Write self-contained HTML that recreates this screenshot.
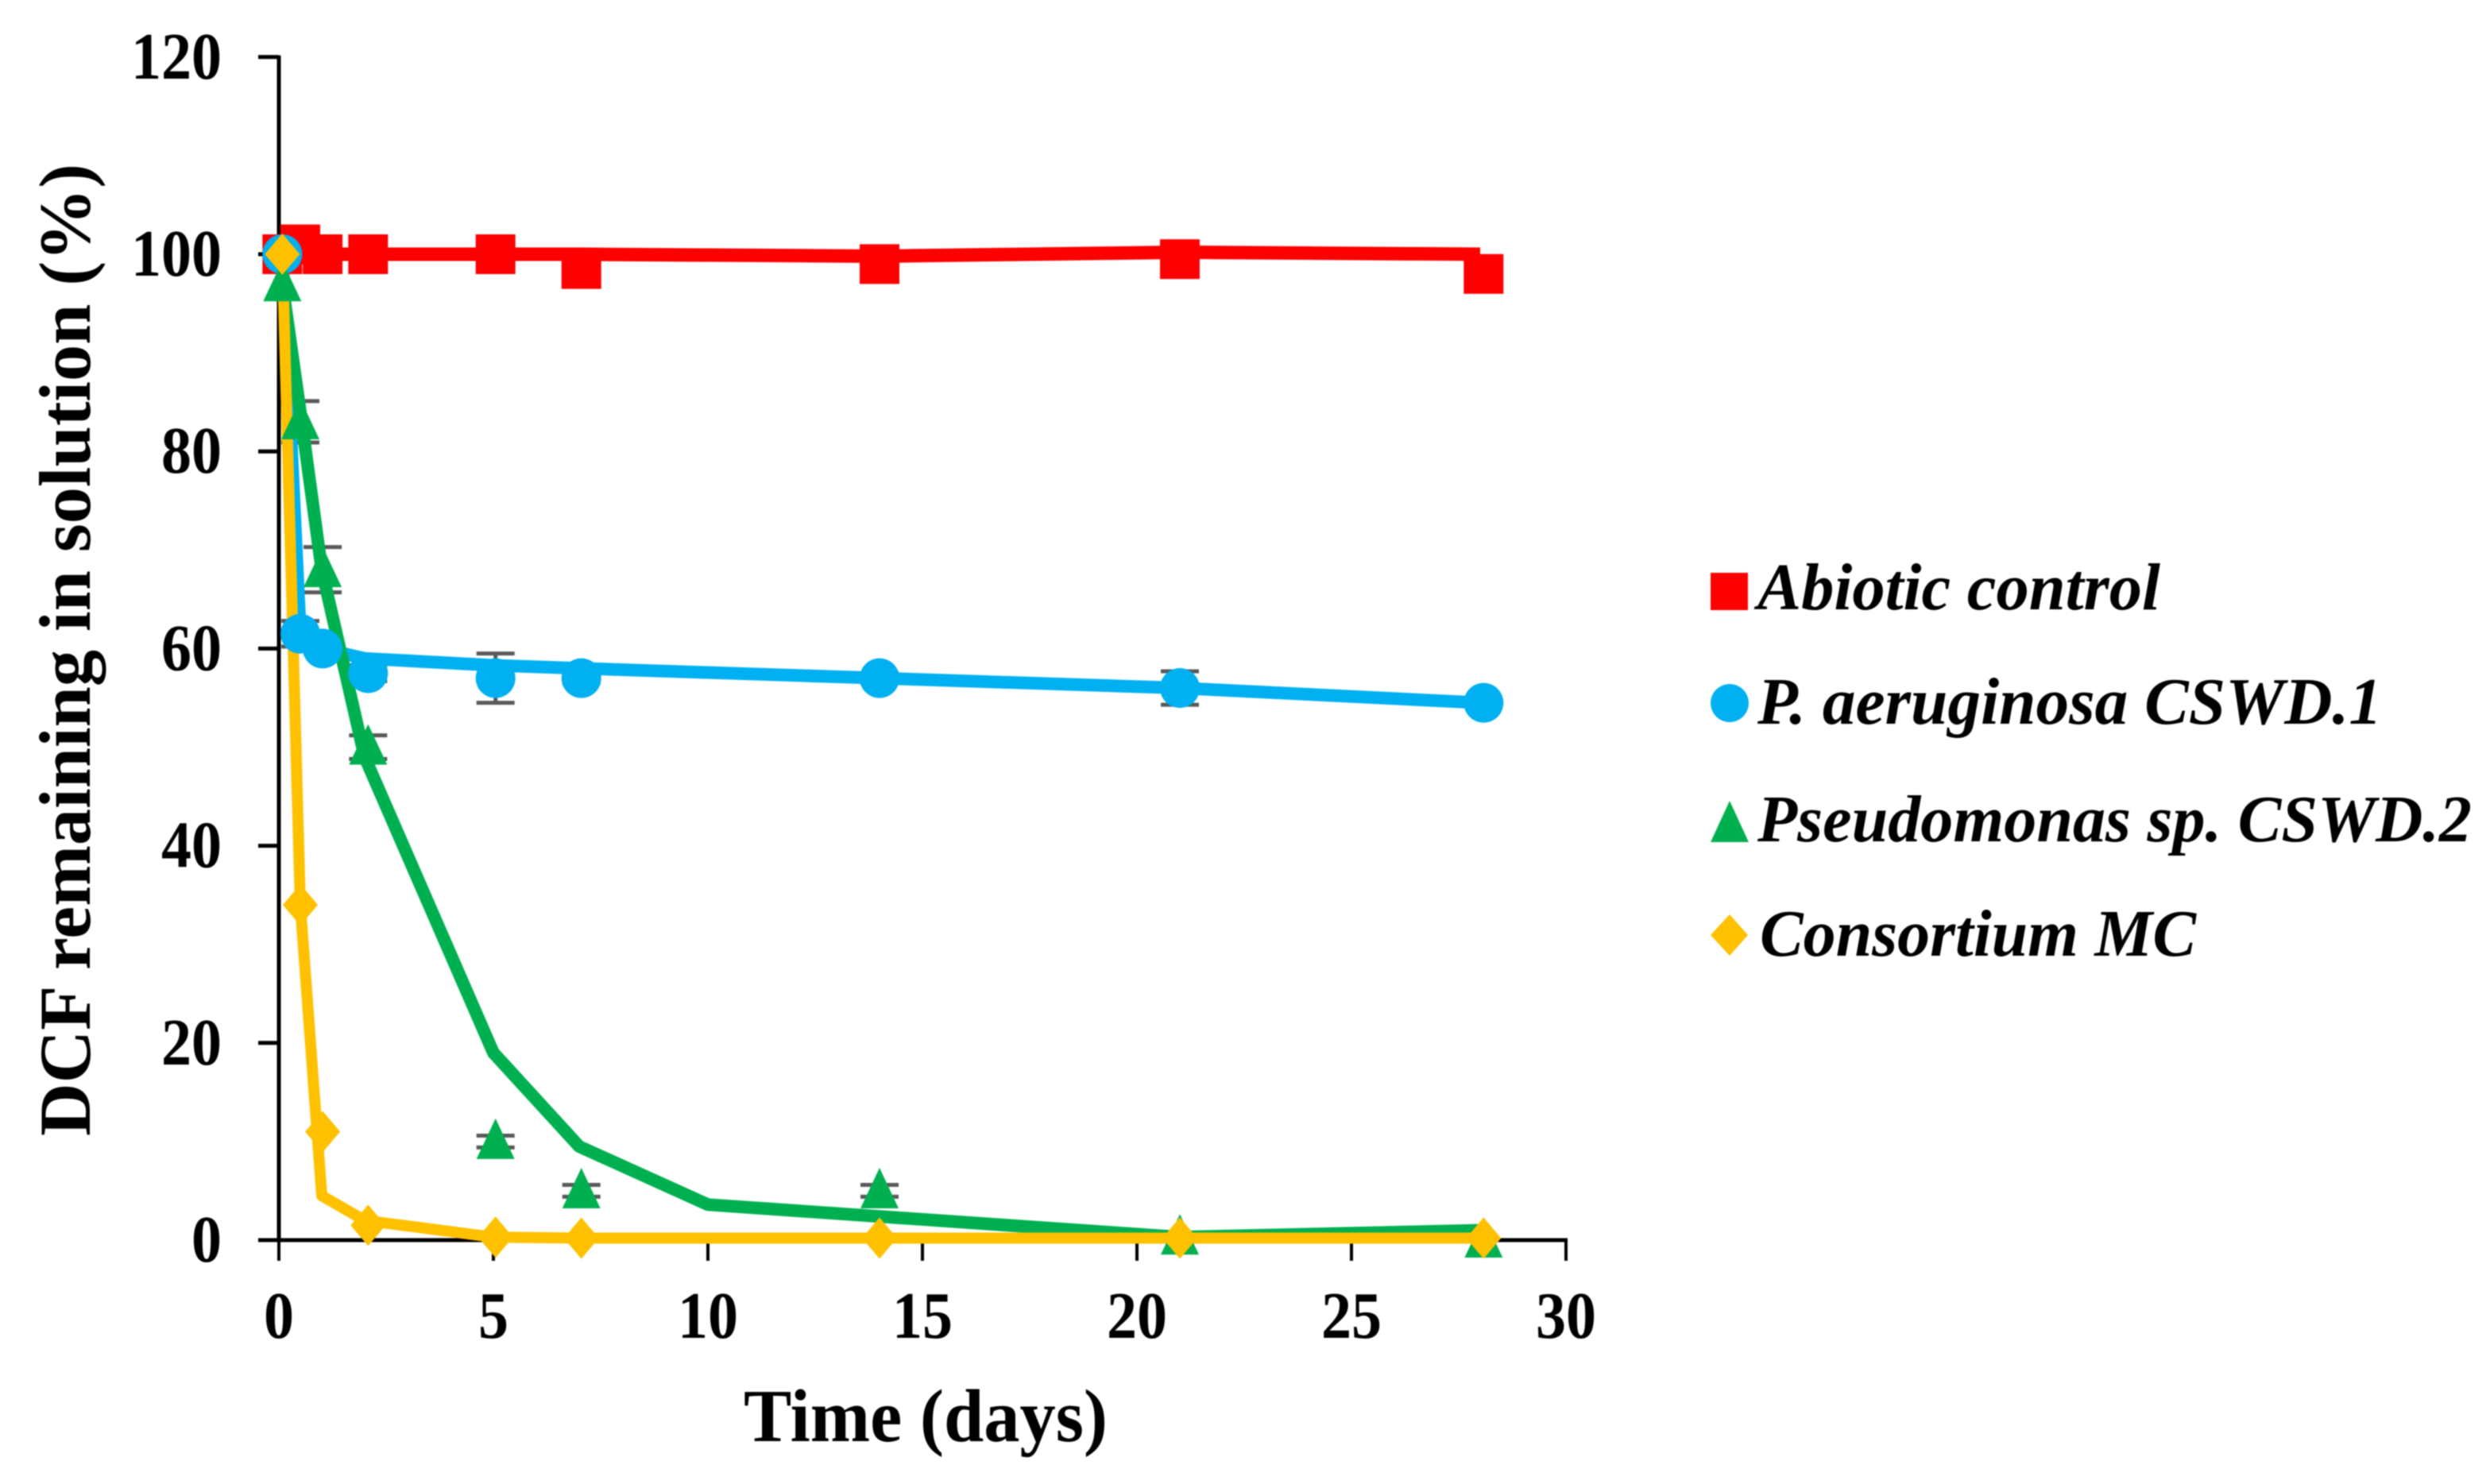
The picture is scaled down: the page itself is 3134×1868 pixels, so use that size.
<!DOCTYPE html>
<html lang="en">
<head>
<meta charset="utf-8">
<title>DCF remaining in solution over time</title>
<style>
html,body{margin:0;padding:0;background:#fff;width:3134px;height:1868px;overflow:hidden}
svg{display:block;filter:blur(0.8px)}
text{font-family:"Liberation Serif",serif;fill:#000}
</style>
</head>
<body>
<svg id="chart" xmlns="http://www.w3.org/2000/svg" width="3134" height="1868" viewBox="0 0 3134 1868">
  <rect x="0" y="0" width="3134" height="1868" fill="#fff"/>
  <g id="axes"></g>
  <g id="errors"></g>
  <g id="lines"></g>
  <g id="markers"></g>
  <text x="936" y="1814" font-size="94" font-weight="bold" textLength="458" lengthAdjust="spacingAndGlyphs">Time (days)</text>
  <text transform="translate(113 1430) rotate(-90)" x="0" y="0" font-size="92" font-weight="bold" textLength="1224" lengthAdjust="spacingAndGlyphs">DCF remaining in solution (%)</text>
  <g>
    <g>
      <rect x="2153" y="721" width="47" height="47" fill="#ff0000"/>
      <text x="2212" y="767" font-size="84" font-style="italic" font-weight="bold" textLength="507" lengthAdjust="spacingAndGlyphs">Abiotic control</text>
    </g>
    <g>
      <circle cx="2177" cy="885" r="24" fill="#00b0f0"/>
      <text x="2212" y="911" font-size="84" font-style="italic" font-weight="bold" textLength="786" lengthAdjust="spacingAndGlyphs">P. aeruginosa CSWD.1</text>
    </g>
    <g>
      <polygon points="2177,1008 2201,1060 2153,1060" fill="#00b050"/>
      <text x="2212" y="1059" font-size="84" font-style="italic" font-weight="bold" textLength="899" lengthAdjust="spacingAndGlyphs">Pseudomonas sp. CSWD.2</text>
    </g>
    <g>
      <polygon points="2177,1151 2200,1177 2177,1203 2153,1177" fill="#ffc000"/>
      <text x="2215" y="1203" font-size="84" font-style="italic" font-weight="bold" textLength="549" lengthAdjust="spacingAndGlyphs">Consortium MC</text>
    </g>
  </g>
</svg>
<script>
const xTickLabels = [0, 5, 10, 15, 20, 25, 30];
const yTickLabels = [0, 20, 40, 60, 80, 100, 120];

const markerDays = [0.08, 0.5, 1.02, 2.08, 5.05, 7.05, 14, 21, 28.08];
const abioticValues = [100, 101, 100, 100, 100, 98.5, 99, 99.5, 98];
const aeruginosaValues = [100, 61.5, 60, 57.5, 57, 57, 57, 56, 54.5];
const pseudomonasValues = [97, 83, 68, 50, 10, 5, 5, 0.3, 0];
const consortiumValues = [100, 34, 11, 1.5, 0.3, 0.2, 0.2, 0.2, 0.2];

const aeruginosaErrors = [0, 1.3, 0.5, 0.8, 2.5, 0.5, 0.5, 1.7, 0.3];
const pseudomonasErrors = [0, 2.1, 2.3, 1.2, 0.6, 0.6, 0.6, 0, 0];

const abioticLineDays = [0.08, 0.5, 1, 2, 5, 7, 14, 21, 28];
const abioticLineValues = [100, 100, 100, 100, 100, 100, 99.8, 100.2, 100];
const aeruginosaLineDays = [0.08, 0.5, 1, 2, 5, 7, 14, 21, 28];
const aeruginosaLineValues = [100, 61.5, 60, 59, 58.3, 58, 57, 56, 54.5];
const pseudomonasLineDays = [0.08, 0.5, 1, 2, 5, 7, 10, 14, 21, 28];
const pseudomonasLineValues = [97, 84, 68, 49, 19, 9.5, 3.6, 2.4, 0.3, 1];
const consortiumLineDays = [0.08, 0.5, 1, 2, 5, 7, 14, 21, 28];
const consortiumLineValues = [100, 34, 4.5, 2, 0.3, 0.2, 0.2, 0.2, 0.2];

const NS = 'http://www.w3.org/2000/svg';
const xScale = d => 351 + d * 54;
const yScale = v => 1561 - v * 12.41;

function make(tag, parent, props) {
  const el = document.createElementNS(NS, tag);
  for (const k in props) el.setAttribute(k, props[k]);
  parent.appendChild(el);
  return el;
}

const axes = document.getElementById('axes');
const linesLayer = document.getElementById('lines');
const errorsLayer = document.getElementById('errors');
const markersLayer = document.getElementById('markers');

const yAxisLine = make('line', axes, {x1: xScale(0), y1: yScale(120) - 2, x2: xScale(0), y2: yScale(0) + 2, stroke: '#000', 'stroke-width': 5});


const xAxisLine = make('line', axes, {x1: xScale(0) - 2, y1: yScale(0), x2: xScale(30) + 2, y2: yScale(0), stroke: '#000', 'stroke-width': 5});



xTickLabels.forEach(t => {
  const tick = make('line', axes, {x1: xScale(t), y1: yScale(0), x2: xScale(t), y2: yScale(0) + 26, stroke: '#000', 'stroke-width': 4});
  
  
  const label = make('text', axes, {x: xScale(t), y: 1684, 'font-size': 84, 'font-weight': 'bold', 'text-anchor': 'middle', textLength: String(t).length * 38, lengthAdjust: 'spacingAndGlyphs'});
  label.textContent = t;
  
  
});

yTickLabels.forEach(t => {
  const tick = make('line', axes, {x1: xScale(0) - 26, y1: yScale(t), x2: xScale(0), y2: yScale(t), stroke: '#000', 'stroke-width': 5});
  
  
  const label = make('text', axes, {x: 279, y: yScale(t) + 27, 'font-size': 84, 'font-weight': 'bold', 'text-anchor': 'end', textLength: String(t).length * 38, lengthAdjust: 'spacingAndGlyphs'});
  label.textContent = t;
  
  
});

function drawLine(days, values, color, width, name) {
  const pts = days.map((d, i) => xScale(d) + ',' + yScale(values[i])).join(' ');
  const line = make('polyline', linesLayer, {points: pts, fill: 'none', stroke: color, 'stroke-width': width, 'stroke-linejoin': 'round'});
  
  
}

function drawErrors(days, values, errs, name) {
  days.forEach((d, i) => {
    if (!errs[i]) return;
    const x = xScale(d), hi = yScale(values[i] + errs[i]), lo = yScale(values[i] - errs[i]);
    const bar = make('path', errorsLayer, {d: 'M' + (x - 24) + ' ' + hi + 'H' + (x + 24) + 'M' + x + ' ' + hi + 'V' + lo + 'M' + (x - 24) + ' ' + lo + 'H' + (x + 24), fill: 'none', stroke: '#595959', 'stroke-width': 5});
    
    
  });
}

function drawMarkers(days, values, shape, color, name) {
  days.forEach((d, i) => {
    const x = xScale(d), y = yScale(values[i]);
    let m;
    if (shape === 'square') {
      m = make('rect', markersLayer, {x: x - 25, y: y - 25, width: 50, height: 50, fill: color});
    } else if (shape === 'circle') {
      m = make('circle', markersLayer, {cx: x, cy: y, r: 25, fill: color});
    } else if (shape === 'triangle') {
      m = make('polygon', markersLayer, {points: x + ',' + (y - 29) + ' ' + (x + 24) + ',' + (y + 22) + ' ' + (x - 24) + ',' + (y + 22), fill: color});
    } else {
      m = make('polygon', markersLayer, {points: x + ',' + (y - 26) + ' ' + (x + 22) + ',' + y + ' ' + x + ',' + (y + 26) + ' ' + (x - 22) + ',' + y, fill: color});
    }
    
    
  });
}

drawErrors(markerDays, aeruginosaValues, aeruginosaErrors, 'p-aeruginosa-error-bar');
drawErrors(markerDays, pseudomonasValues, pseudomonasErrors, 'pseudomonas-sp-error-bar');

drawLine(abioticLineDays, abioticLineValues, '#ff0000', 17, 'abiotic-control-line');
drawLine(aeruginosaLineDays, aeruginosaLineValues, '#00b0f0', 16, 'p-aeruginosa-line');
drawLine(pseudomonasLineDays, pseudomonasLineValues, '#00b050', 16, 'pseudomonas-sp-line');
drawLine(consortiumLineDays, consortiumLineValues, '#ffc000', 14, 'consortium-mc-line');

drawMarkers(markerDays, abioticValues, 'square', '#ff0000', 'abiotic-control-marker');
drawMarkers(markerDays, aeruginosaValues, 'circle', '#00b0f0', 'p-aeruginosa-marker');
drawMarkers(markerDays, pseudomonasValues, 'triangle', '#00b050', 'pseudomonas-sp-marker');
drawMarkers(markerDays, consortiumValues, 'diamond', '#ffc000', 'consortium-mc-marker');
</script>
</body>
</html>
